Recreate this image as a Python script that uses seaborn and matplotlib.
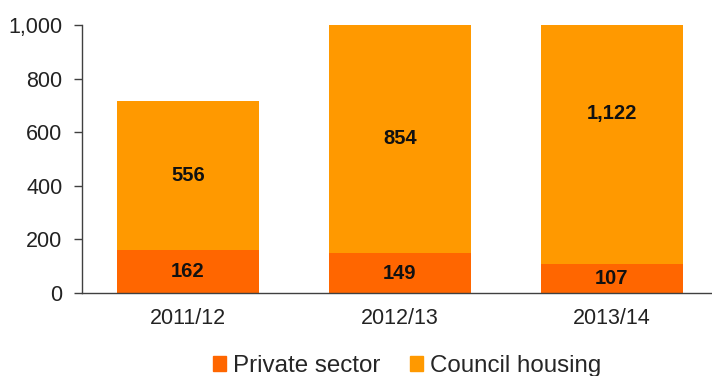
import numpy as np
import pandas as pd
import matplotlib
matplotlib.use("Agg")
import matplotlib.pyplot as plt
import seaborn as sns
from matplotlib.patches import Patch

# Data
years = ["2011/12", "2012/13", "2013/14"]
private_sector = [162, 149, 107]
council_housing = [556, 854, 1122]

PRIVATE_COLOR = "#FF6600"
COUNCIL_COLOR = "#FF9900"

sns.set_theme(style="white")
plt.rcParams["font.family"] = ["Liberation Sans", "DejaVu Sans"]

df = pd.DataFrame({
    "year": years,
    "private": private_sector,
    "council": council_housing,
})
df["total"] = df["private"] + df["council"]

fig = plt.figure(figsize=(7.12, 3.76), dpi=100)
ax = fig.add_axes([82 / 712, 83 / 376, 630 / 712, 268 / 376])

# Stacked bars: total first (council colour), private over it from zero
sns.barplot(data=df, x="year", y="total", color=COUNCIL_COLOR, width=0.67,
            saturation=1, linewidth=0, ax=ax)
sns.barplot(data=df, x="year", y="private", color=PRIVATE_COLOR, width=0.67,
            saturation=1, linewidth=0, ax=ax)

for i, row in df.iterrows():
    ax.text(i, row["private"] / 2, f"{row['private']:,}", ha="center", va="center",
            fontsize=14.5, fontweight="bold", color="#111111")
    ax.text(i, row["private"] + row["council"] / 2, f"{row['council']:,}",
            ha="center", va="center", fontsize=14.5, fontweight="bold", color="#111111")

ax.set_ylim(0, 1000)
ax.set_xlim(-0.5, -0.5 + 630 / 212)
ax.set_yticks(range(0, 1001, 200))
ax.set_yticklabels([f"{v:,}" for v in range(0, 1001, 200)])
ax.set_xlabel("")
ax.set_ylabel("")

ax.set_xticks([0.5, 1.5], minor=True)
ax.tick_params(axis="x", which="major", length=0, labelsize=15.5, colors="#222222", pad=11)
ax.tick_params(axis="x", which="minor", length=6, width=1, color="#404040", direction="out")
ax.tick_params(axis="y", length=6, width=1, color="#404040", direction="out",
               labelsize=15.5, labelcolor="#222222", left=True, pad=8)

for side in ["top", "right"]:
    ax.spines[side].set_visible(False)
for side in ["left", "bottom"]:
    ax.spines[side].set_color("#404040")
    ax.spines[side].set_linewidth(1)

handles = [Patch(color=PRIVATE_COLOR, label="Private sector"),
           Patch(color=COUNCIL_COLOR, label="Council housing")]
fig.legend(handles=handles, loc="center", bbox_to_anchor=(407 / 712, 1 - 366 / 376),
           ncol=2, frameon=False, fontsize=17.4, handlelength=0.55, handleheight=0.55,
           handletextpad=0.3, columnspacing=1.2)

fig.savefig("out.png", dpi=100)
